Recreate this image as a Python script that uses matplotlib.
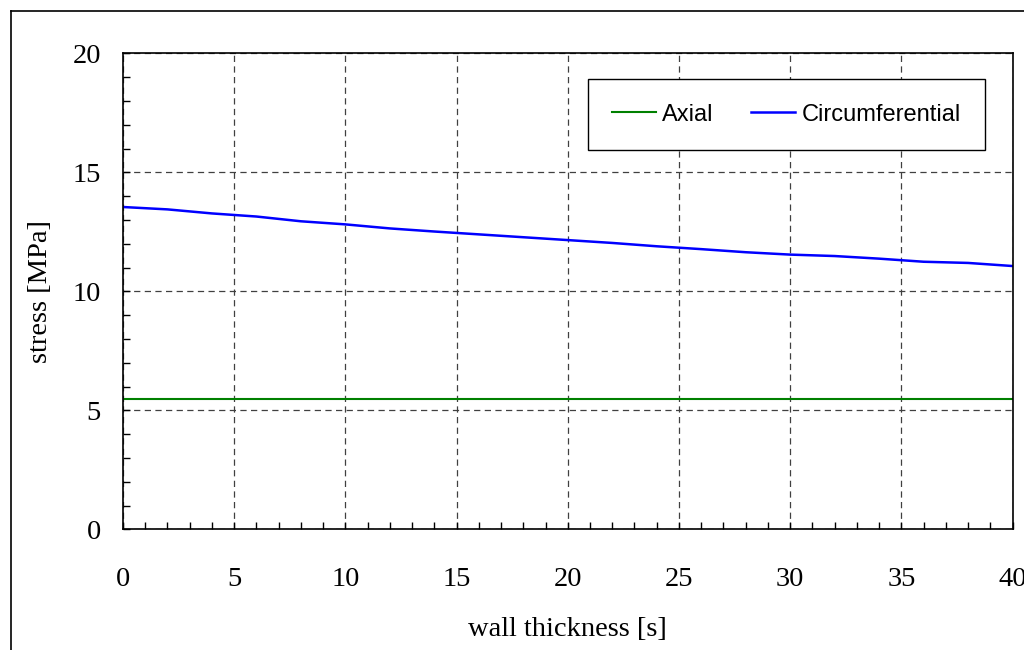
import numpy as np
import matplotlib.pyplot as plt
from matplotlib.ticker import MultipleLocator
from matplotlib.lines import Line2D

# данные
thickness = [0, 2, 4, 6, 8, 10, 12, 14, 16, 18, 20, 22, 24, 26, 28, 30, 32, 34, 36, 38, 40]
circumferential = [13.55, 13.45, 13.28, 13.15, 12.95, 12.82, 12.65, 12.52, 12.40, 12.28, 12.16,
                   12.04, 11.90, 11.78, 11.65, 11.55, 11.49, 11.38, 11.25, 11.20, 11.07]
axial = [5.5] * len(thickness)

plt.rcParams['font.family'] = ['Liberation Serif', 'DejaVu Serif']

fig = plt.figure(figsize=(10.24, 6.5), dpi=100)
ax = fig.add_axes([0.1201, 0.1854, 0.8687, 0.7323])

ax.plot(thickness, axial, color='#008000', lw=1.5, label='Axial')
ax.plot(thickness, circumferential, color='#0000FF', lw=1.8, label='Circumferential')

ax.set_xlim(0, 40)
ax.set_ylim(0, 20)
ax.xaxis.set_major_locator(MultipleLocator(5))
ax.xaxis.set_minor_locator(MultipleLocator(1))
ax.yaxis.set_major_locator(MultipleLocator(5))
ax.yaxis.set_minor_locator(MultipleLocator(1))
ax.tick_params(which='both', direction='in', length=5, width=1, colors='black')
ax.tick_params(axis='x', which='major', pad=27, labelsize=20.5)
ax.tick_params(axis='y', which='major', pad=16, labelsize=20.5)
ax.grid(True, which='major', color='0.25', linestyle=(0, (5, 3.5)), lw=0.9)
for s in ax.spines.values():
    s.set_linewidth(1.2)
    s.set_color('black')

ax.set_xlabel('wall thickness [s]', fontsize=20.5, va='center')
ax.xaxis.set_label_coords(0.5, -0.211)
ax.set_ylabel('stress [MPa]', fontsize=20.5, va='center')
ax.yaxis.set_label_coords(-0.093, 0.5)

leg = ax.legend(loc='center', bbox_to_anchor=(0.768, 0.8238), bbox_transform=fig.transFigure,
                ncol=2, prop={'family': 'Liberation Sans', 'size': 17},
                handlelength=1.86, handletextpad=0.25, columnspacing=1.6,
                borderpad=1.05, fancybox=False, framealpha=1, edgecolor='black')
leg.get_frame().set_linewidth(1.0)

# рамка вокруг всей диаграммы (обрезана справа и снизу)
fig.add_artist(Line2D([10.5 / 1024, 10.5 / 1024], [0, 1 - 11 / 650], color='black', lw=1.2,
                      transform=fig.transFigure))
fig.add_artist(Line2D([10.5 / 1024, 1], [1 - 11 / 650, 1 - 11 / 650], color='black', lw=1.2,
                      transform=fig.transFigure))

fig.savefig('out.png', dpi=100)
